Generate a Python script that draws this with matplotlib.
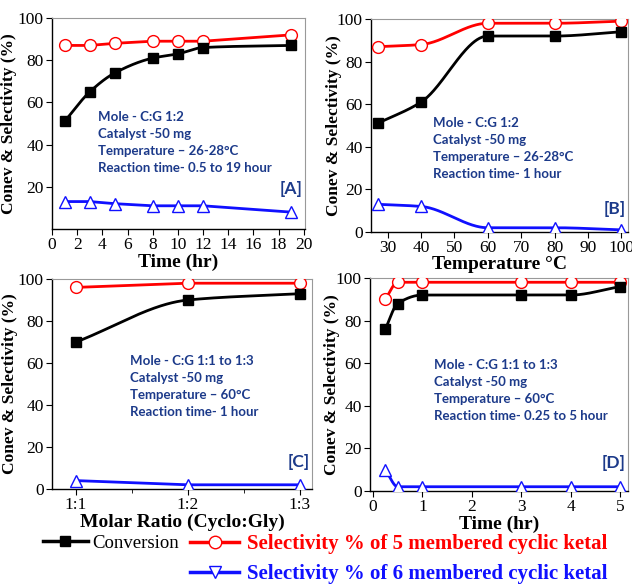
import numpy as np
import matplotlib
matplotlib.use('Agg')
from matplotlib import pyplot as plt
from matplotlib.lines import Line2D

# datos de cada panel
a_time = [1, 3, 5, 8, 10, 12, 19]
a_conv = [51, 65, 74, 81, 83, 86, 87]
a_sel5 = [87, 87, 88, 89, 89, 89, 92]
a_sel6 = [13, 13, 12, 11, 11, 11, 8]

b_temp = [27, 40, 60, 80, 100]
b_conv = [51, 61, 92, 92, 94]
b_sel5 = [87, 88, 98, 98, 99]
b_sel6 = [13, 12, 2, 2, 1]

c_ratio = [1, 2, 3]
c_labels = ['1:1', '1:2', '1:3']
c_conv = [70, 90, 93]
c_sel5 = [96, 98, 98]
c_sel6 = [4, 2, 2]

d_time = [0.25, 0.5, 1, 3, 4, 5]
d_conv = [76, 88, 92, 92, 92, 96]
d_sel5 = [90, 98, 98, 98, 98, 98]
d_sel6 = [10, 2, 2, 2, 2, 2]

NAVY = '#1c3a8a'
RED = '#ff0000'
BLUE = '#1010ff'
SERIF = 'Liberation Serif'
plt.rcParams['font.family'] = SERIF


def smooth(x, y, n=300):
    # interpolacion monotona (tipo pchip) solo para dibujar la linea
    x = np.asarray(x, float)
    y = np.asarray(y, float)
    h = np.diff(x)
    d = np.diff(y) / h
    m = np.zeros_like(y)
    m[0] = d[0]
    m[-1] = d[-1]
    for k in range(1, len(x) - 1):
        if d[k - 1] * d[k] <= 0:
            m[k] = 0
        else:
            w1 = 2 * h[k] + h[k - 1]
            w2 = h[k] + 2 * h[k - 1]
            m[k] = (w1 + w2) / (w1 / d[k - 1] + w2 / d[k])
    xs = np.linspace(x[0], x[-1], n)
    idx = np.clip(np.searchsorted(x, xs) - 1, 0, len(x) - 2)
    t = (xs - x[idx]) / h[idx]
    h00 = 2 * t**3 - 3 * t**2 + 1
    h10 = t**3 - 2 * t**2 + t
    h01 = -2 * t**3 + 3 * t**2
    h11 = t**3 - t**2
    ys = h00 * y[idx] + h10 * h[idx] * m[idx] + h01 * y[idx + 1] + h11 * h[idx] * m[idx + 1]
    return xs, ys


def series(ax, x, y, style, curve):
    col, mk, mfc, ms = style
    if curve:
        xs, ys = smooth(x, y)
        ax.plot(xs, ys, color=col, lw=2, zorder=2)
    else:
        ax.plot(x, y, color=col, lw=2, zorder=2)
    ax.plot(x, y, ls='none', marker=mk, ms=ms, mfc=mfc, mec=col, mew=1, zorder=3)


S_CONV = ('black', 's', 'black', 7)
S_SEL5 = (RED, 'o', 'white', 8.5)
S_SEL6 = (BLUE, '^', 'white', 9)


def style_axes(ax, xlabel, ylab_x):
    for s in ['top', 'right']:
        ax.spines[s].set_color('#999999')
        ax.spines[s].set_linewidth(0.8)
    for s in ['left', 'bottom']:
        ax.spines[s].set_linewidth(1.0)
    ax.tick_params(direction='out', length=4, labelsize=12.5, pad=2)
    ax.set_xlabel(xlabel, fontweight='bold', fontsize=14, labelpad=0)
    ax.set_ylabel('Conev & Selectivity (%)', fontweight='bold', fontsize=12.5)
    ax.yaxis.set_label_coords(ylab_x, 0.5)


def notes(ax, lines, tag, x0, y0, ytag):
    ax.text(x0, y0, '\n'.join(lines), transform=ax.transAxes, color=NAVY,
            fontsize=9.5, fontweight='bold', family='Lato', linespacing=1.5, va='top')
    ax.text(0.99, ytag, tag, transform=ax.transAxes, color=NAVY, fontsize=12.5,
            fontweight='bold', family='Lato', ha='right', va='center')


fig = plt.figure(figsize=(6.32, 5.84), dpi=100)
W, H = 632, 584


def box(l, r, t, b):
    return [l / W, 1 - b / H, (r - l) / W, (b - t) / H]


# [A]
ax = fig.add_axes(box(52, 305, 18, 229))
series(ax, a_time, a_sel5, S_SEL5, False)
series(ax, a_time, a_conv, S_CONV, True)
series(ax, a_time, a_sel6, S_SEL6, False)
ax.set_xlim(0, 20.1)
ax.set_ylim(0, 100)
ax.set_xticks(np.arange(0, 21, 2))
ax.set_yticks([20, 40, 60, 80, 100])
style_axes(ax, 'Time (hr)', -0.138)
notes(ax, ['Mole - C:G 1:2', 'Catalyst -50 mg', 'Temperature \u2013 26-28\u00b0C',
           'Reaction time- 0.5 to 19 hour'], '[A]', 0.18, 0.56, 0.19)

# [B]
ax = fig.add_axes(box(371, 628, 19, 232))
series(ax, b_temp, b_sel5, S_SEL5, True)
series(ax, b_temp, b_conv, S_CONV, True)
series(ax, b_temp, b_sel6, S_SEL6, True)
ax.set_xlim(25, 102)
ax.set_ylim(0, 100)
ax.set_xticks(np.arange(30, 101, 10))
ax.set_yticks(np.arange(0, 101, 20))
style_axes(ax, 'Temperature \u00b0C', -0.113)
notes(ax, ['Mole - C:G 1:2', 'Catalyst -50 mg', 'Temperature \u2013 26-28\u00b0C',
           'Reaction time- 1 hour'], '[B]', 0.24, 0.54, 0.11)

# [C]
ax = fig.add_axes(box(52, 312, 279, 489))
series(ax, c_ratio, c_sel5, S_SEL5, False)
series(ax, c_ratio, c_conv, S_CONV, True)
series(ax, c_ratio, c_sel6, S_SEL6, False)
ax.set_xlim(0.786, 3.107)
ax.set_ylim(0, 100)
ax.set_xticks(c_ratio)
ax.set_xticklabels(c_labels)
ax.set_xticks([1.5, 2.5], minor=True)
ax.tick_params(which='minor', direction='out', length=3)
ax.set_yticks(np.arange(0, 101, 20))
style_axes(ax, 'Molar Ratio (Cyclo:Gly)', -0.131)
notes(ax, ['Mole - C:G 1:1 to 1:3', 'Catalyst -50 mg', 'Temperature \u2013 60\u00b0C',
           'Reaction time- 1 hour'], '[C]', 0.30, 0.64, 0.13)

# [D]
ax = fig.add_axes(box(370, 628, 278, 491))
series(ax, d_time, d_sel5, S_SEL5, True)
series(ax, d_time, d_conv, S_CONV, True)
series(ax, d_time, d_sel6, S_SEL6, True)
ax.set_xlim(-0.06, 5.16)
ax.set_ylim(0, 100)
ax.set_xticks(range(6))
ax.set_yticks(np.arange(0, 101, 20))
style_axes(ax, 'Time (hr)', -0.116)
notes(ax, ['Mole - C:G 1:1 to 1:3', 'Catalyst -50 mg', 'Temperature \u2013 60\u00b0C',
           'Reaction time- 0.25 to 5 hour'], '[D]', 0.25, 0.62, 0.13)

# leyenda
h_conv = Line2D([], [], color='black', lw=2.5, marker='s', ms=7, mfc='black')
h_sel5 = Line2D([], [], color=RED, lw=2.5, marker='o', ms=9, mfc='white', mec=RED)
h_sel6 = Line2D([], [], color=BLUE, lw=2.5, marker='v', ms=9, mfc='white', mec=BLUE)

leg1 = fig.legend([h_conv], ['Conversion'], loc='center left', bbox_to_anchor=(35 / W, 1 - 543 / H),
                  frameon=False, handlelength=2.4, handletextpad=0.27, borderaxespad=0,
                  prop={'family': SERIF, 'size': 13.5})
leg2 = fig.legend([h_sel5, h_sel6],
                  ['Selectivity % of 5 membered cyclic ketal', 'Selectivity % of 6 membered cyclic ketal'],
                  loc='center left', bbox_to_anchor=(182 / W, 1 - 559 / H), frameon=False,
                  handlelength=2.35, handletextpad=0.35, labelspacing=0.5, borderaxespad=0,
                  prop={'family': SERIF, 'size': 15, 'weight': 'bold'})
leg2.get_texts()[0].set_color(RED)
leg2.get_texts()[1].set_color(BLUE)

fig.savefig('out.png', dpi=100)
